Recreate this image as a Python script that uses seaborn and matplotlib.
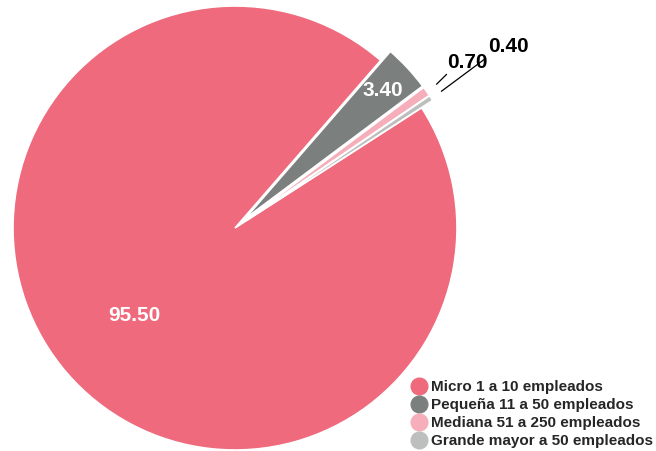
import numpy as np
import matplotlib
matplotlib.use("Agg")
import matplotlib.pyplot as plt
from matplotlib.lines import Line2D
import seaborn as sns

# Data
categories = [
    "Micro 1 a 10 empleados",
    "Pequeña 11 a 50 empleados",
    "Mediana 51 a 250 empleados",
    "Grande mayor a 50 empleados",
]
values = [95.50, 3.40, 0.70, 0.40]
colors = ["#EE6A7C", "#7B807F", "#F5AEBA", "#BDBFBF"]
explode = [0.0, 0.06, 0.06, 0.06]

sns.set_style("white")
plt.rcParams["font.family"] = ["Liberation Sans", "DejaVu Sans"]
plt.rcParams["font.weight"] = "bold"

W, H, DPI = 656, 451, 100
fig = plt.figure(figsize=(W / DPI, H / DPI), dpi=DPI)
ax = fig.add_axes([0, 0, 1, 1])

# pie center / radius in pixels
cx, cy, R = 235, 228, 222

wedges, _ = ax.pie(
    values,
    colors=colors,
    explode=explode,
    startangle=32.8,
    counterclock=False,
    radius=1.0,
    wedgeprops=dict(edgecolor="white", linewidth=1.2),
)

ax.set_xlim(-cx / R, (W - cx) / R)
ax.set_ylim(-(H - cy) / R, cy / R)
ax.set_aspect("equal")
ax.axis("off")


def mid(w):
    return np.deg2rad((w.theta1 + w.theta2) / 2)


# inner labels
for i, r, col in [(0, 0.6, "white"), (1, 0.85, "white")]:
    a = mid(wedges[i])
    rr = r + explode[i]
    ax.text(rr * np.cos(a), rr * np.sin(a), f"{values[i]:.2f}",
            ha="center", va="center", color=col, fontsize=15, fontweight="bold")

# outer labels with leader lines
label_pos = {2: (0.955, 0.721), 3: (1.14, 0.793)}
line_end = {2: (0.953, 0.692), 3: (1.129, 0.764)}
for i in (2, 3):
    a = mid(wedges[i])
    r0 = 1.055 + explode[i]
    x0, y0 = r0 * np.cos(a), r0 * np.sin(a)
    ax.plot([x0, line_end[i][0]], [y0, line_end[i][1]], color="black", lw=0.9)
    ax.text(*label_pos[i], f"{values[i]:.2f}", ha="left", va="baseline",
            color="black", fontsize=15, fontweight="bold")

handles = [Line2D([0], [0], marker="o", linestyle="", markersize=12,
                  markerfacecolor=c, markeredgecolor=c) for c in colors]
fig.legend(handles, categories, loc="lower right", bbox_to_anchor=(1.0, 0.0),
           frameon=False, handlelength=1.0, handletextpad=0.3,
           labelspacing=0.25, borderpad=0.2, borderaxespad=0.0,
           prop=dict(weight="bold", size=11))

fig.savefig("out.png", dpi=DPI)
